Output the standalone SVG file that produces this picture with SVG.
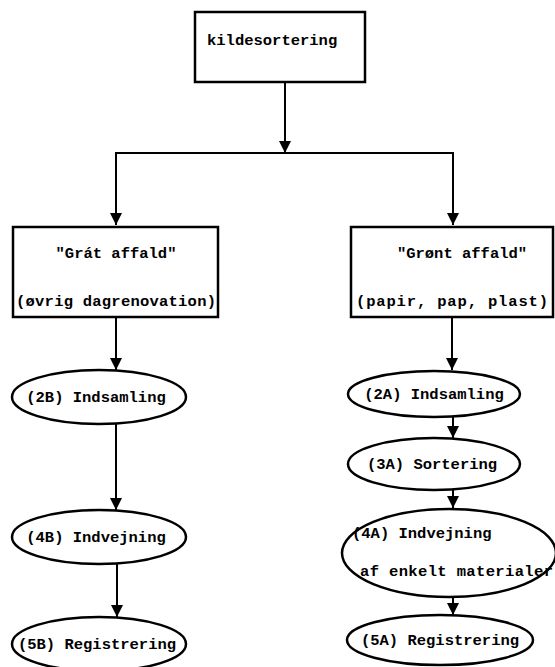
<svg xmlns="http://www.w3.org/2000/svg" width="555" height="667" viewBox="0 0 555 667">
<style>
.box{fill:#fff;stroke:#000;stroke-width:2.5}
.t{font-family:"Liberation Mono","DejaVu Sans Mono",monospace;font-weight:bold;font-size:15.5px;fill:#000}
.c{text-anchor:middle}
.ln{fill:none;stroke:#000;stroke-width:2}
</style>
<defs>
<marker id="ah" viewBox="0 0 12 12" refX="12" refY="6" markerWidth="12" markerHeight="12" markerUnits="userSpaceOnUse" orient="auto">
<path d="M0,0 L12,6 L0,12 Z" fill="#000"/>
</marker>
</defs>
<rect width="555" height="667" fill="#fff"/>
<g id="connectors">
<path class="ln" d="M285,82 V153" marker-end="url(#ah)"/>
<path class="ln" d="M116,225 V153 H453 V225"/>
<path class="ln" d="M116,210 V225" marker-end="url(#ah)"/>
<path class="ln" d="M453,210 V225" marker-end="url(#ah)"/>
<path class="ln" d="M116,317 V370" marker-end="url(#ah)"/>
<path class="ln" d="M452,317 V370" marker-end="url(#ah)"/>
<path class="ln" d="M116,424 V510" marker-end="url(#ah)"/>
<path class="ln" d="M117,564 V617" marker-end="url(#ah)"/>
<path class="ln" d="M453,417 V438" marker-end="url(#ah)"/>
<path class="ln" d="M453,490 V508" marker-end="url(#ah)"/>
<path class="ln" d="M453,597 V615" marker-end="url(#ah)"/>
</g>
<g id="kildesortering">
<rect class="box" x="195" y="12" width="170" height="70"/>
<text class="t" x="207" y="45">kildesortering</text>
</g>
<g id="graat">
<rect class="box" x="13" y="227" width="205" height="90"/>
<text class="t c" x="116" y="258">"Grát affald"</text>
<text class="t c" x="116" y="306" textLength="200">(øvrig dagrenovation)</text>
</g>
<g id="groent">
<rect class="box" x="351" y="227" width="202" height="90"/>
<text class="t c" x="462" y="258">"Grønt affald"</text>
<text class="t c" x="452" y="306" textLength="192">(papir, pap, plast)</text>
</g>
<g id="n2B">
<ellipse class="box" cx="99" cy="397" rx="87" ry="27"/>
<text class="t c" x="96" y="402">(2B) Indsamling</text>
</g>
<g id="n4B">
<ellipse class="box" cx="99" cy="537" rx="87" ry="27"/>
<text class="t c" x="96" y="542">(4B) Indvejning</text>
</g>
<g id="n5B">
<ellipse class="box" cx="99" cy="644" rx="87" ry="27"/>
<text class="t c" x="97" y="649">(5B) Registrering</text>
</g>
<g id="n2A">
<ellipse class="box" cx="434" cy="394" rx="86" ry="23"/>
<text class="t c" x="434" y="399">(2A) Indsamling</text>
</g>
<g id="n3A">
<ellipse class="box" cx="434" cy="464" rx="86" ry="26"/>
<text class="t c" x="432" y="469">(3A) Sortering</text>
</g>
<g id="n4A">
<ellipse class="box" cx="449" cy="553" rx="107" ry="44"/>
<text class="t" x="352" y="538">(4A) Indvejning</text>
<text class="t" x="360" y="576" textLength="193">af enkelt materialer</text>
</g>
<g id="n5A">
<ellipse class="box" cx="440" cy="640" rx="93" ry="25"/>
<text class="t c" x="440" y="645">(5A) Registrering</text>
</g>
</svg>
